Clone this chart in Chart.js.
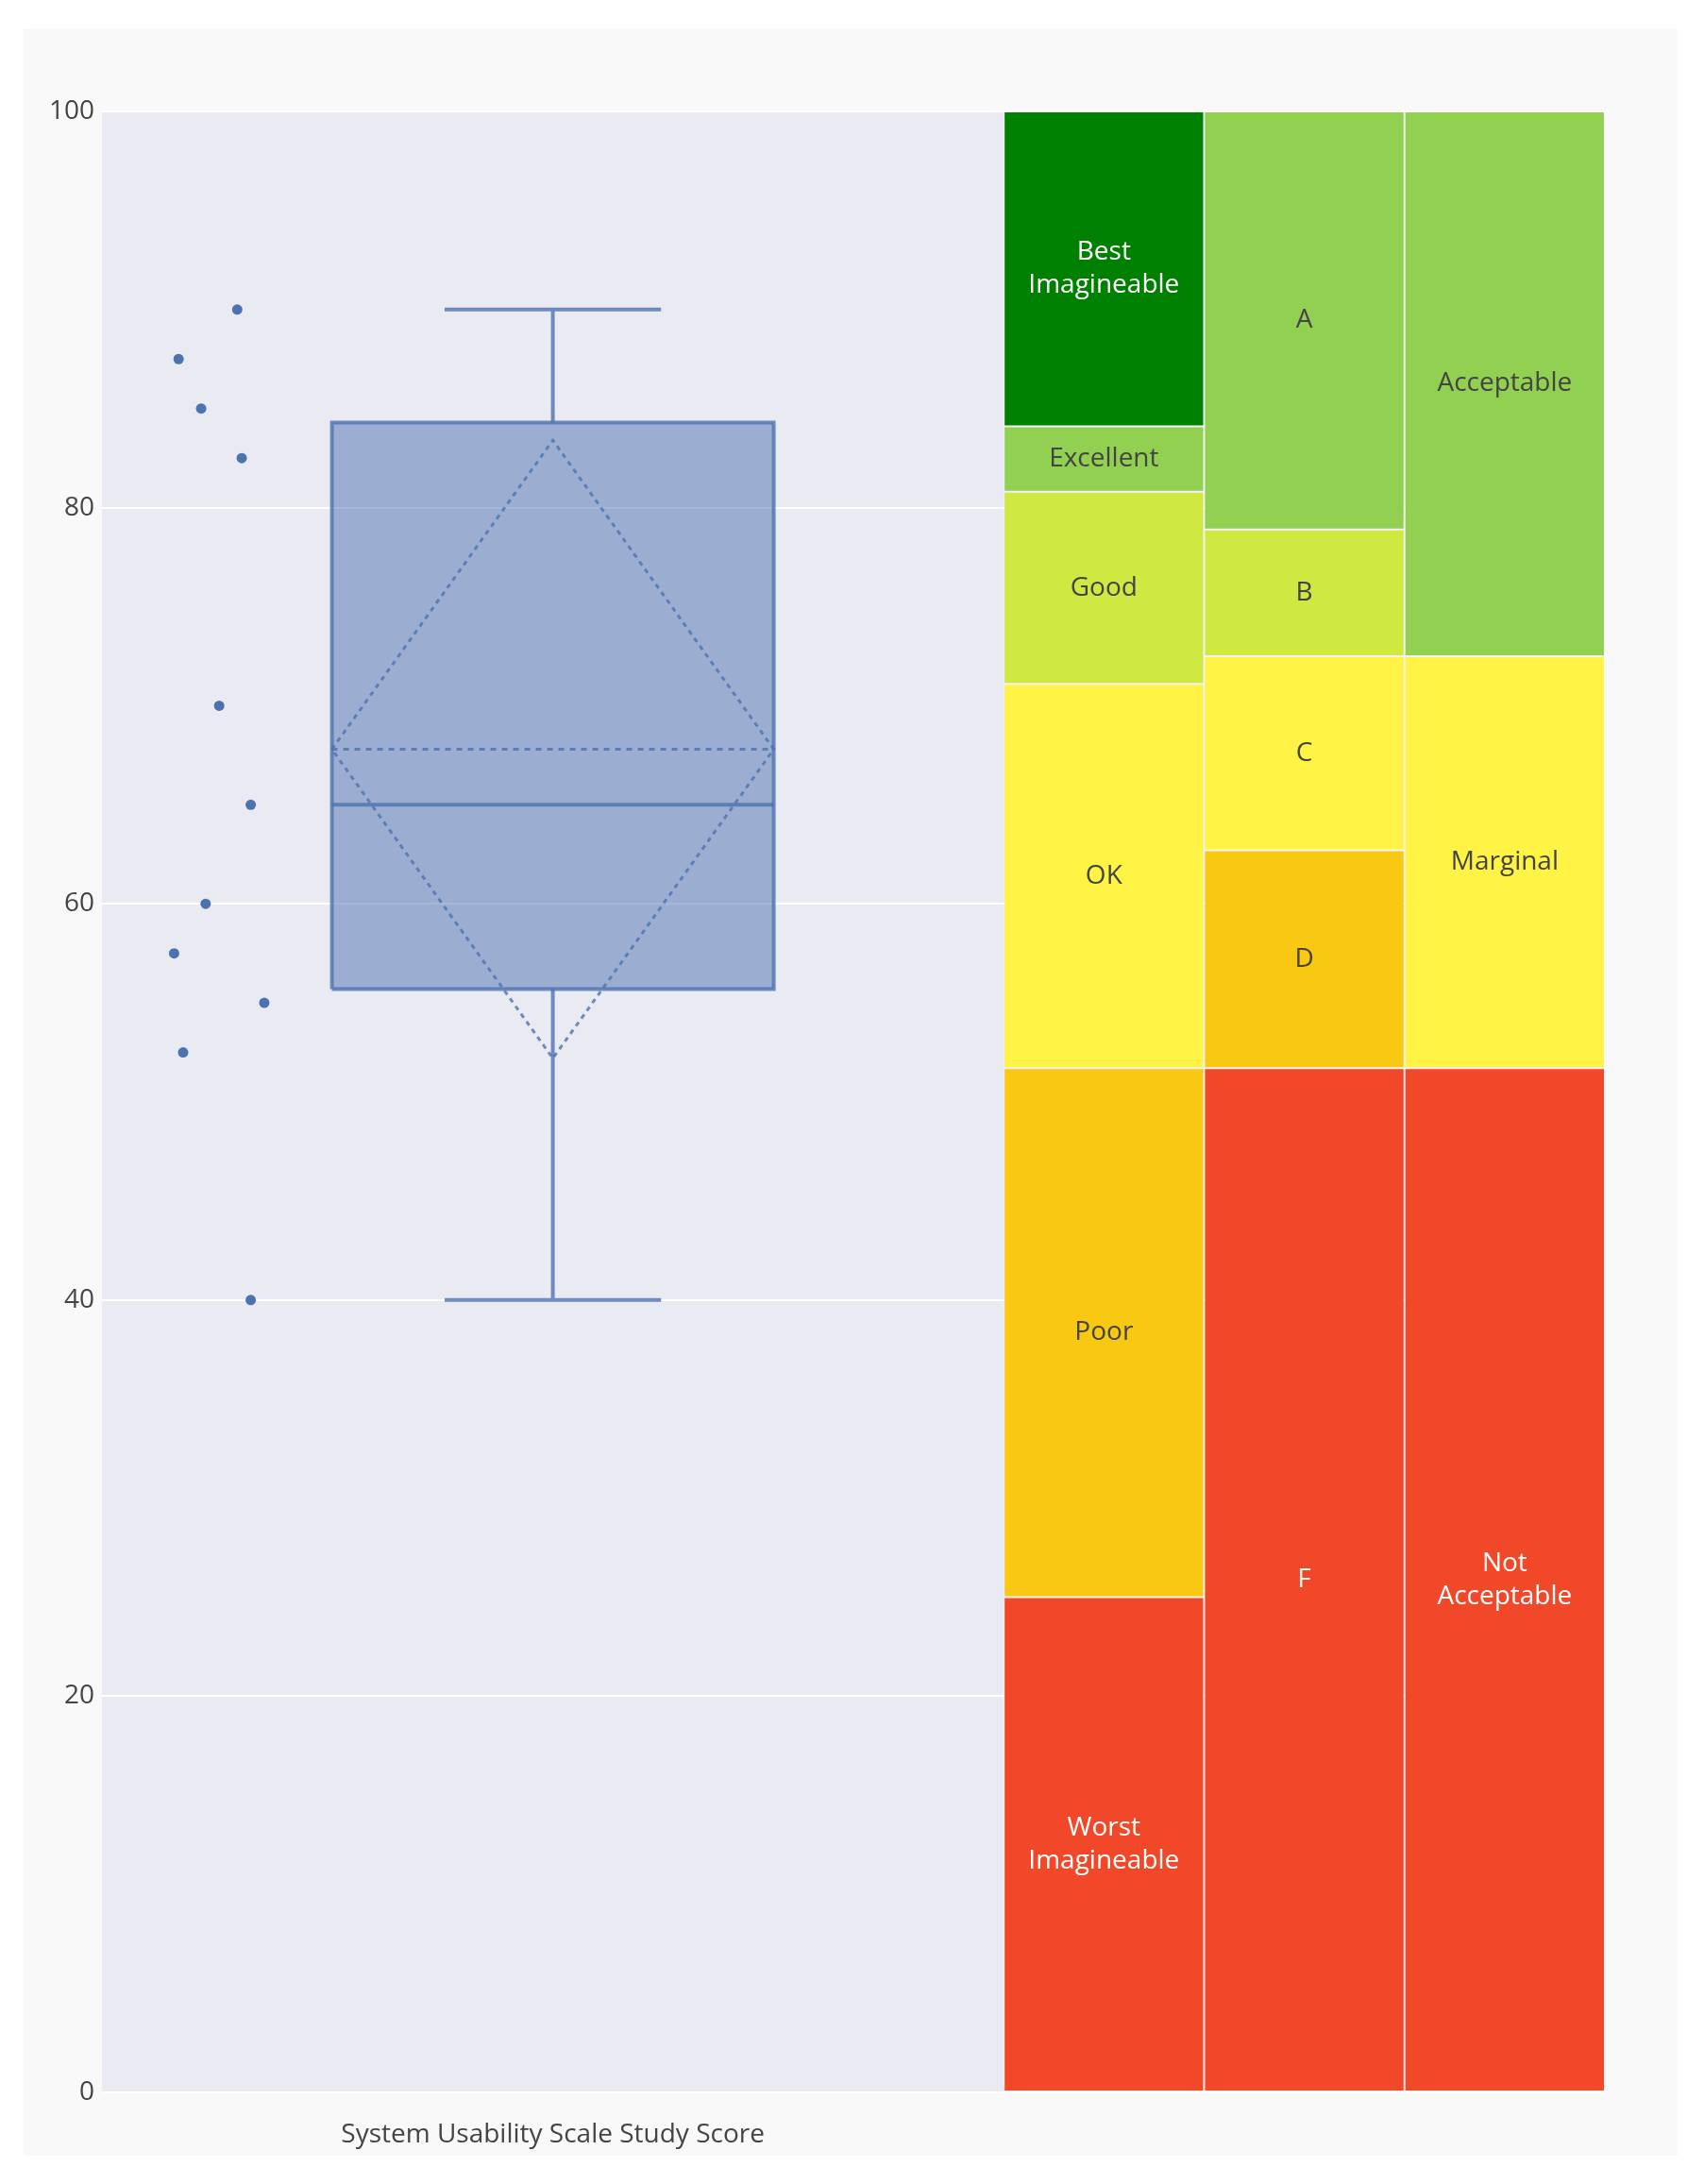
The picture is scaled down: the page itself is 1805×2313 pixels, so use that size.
<!DOCTYPE html>
<html>
<head>
<meta charset="utf-8">
<script src="https://cdn.jsdelivr.net/npm/chart.js@4.4.0/dist/chart.umd.min.js"></script>
<style>
  html, body { margin: 0; padding: 0; background: #fff; }
  #panel { position: absolute; left: 25px; top: 30px; width: 1752px; height: 2253px; background: #f9f9f9; }
</style>
</head>
<body>
<div id="panel"><canvas id="sus"></canvas></div>
<script>
// one dot per participant, with the sideways jitter it was drawn at
var scores = [90, 87.5, 85, 82.5, 70, 65, 60, 57.5, 55, 52.5, 40];
var jitter = [-0.70, -0.83, -0.78, -0.69, -0.74, -0.67, -0.77, -0.84, -0.64, -0.82, -0.67];

// box summary
var whiskerLow = 40, q1 = 55.7, median = 65, q3 = 84.3, whiskerHigh = 90;
var mean = 67.8, sd = 15.6;

// SUS scales shown as the treemap (bottom to top)
var adjectiveNames = ['Worst\nImagineable', 'Poor', 'OK', 'Good', 'Excellent', 'Best\nImagineable'];
var adjectiveEdges = [0, 25, 51.7, 71.1, 80.8, 84.1, 100];
var gradeNames = ['F', 'D', 'C', 'B', 'A'];
var gradeEdges = [0, 51.7, 62.7, 72.5, 78.9, 100];
var acceptNames = ['Not\nAcceptable', 'Marginal', 'Acceptable'];
var acceptEdges = [0, 51.7, 72.5, 100];

var xCategory = 'System Usability Scale Study Score';
var yTicks = [0, 20, 40, 60, 80, 100];

// colours
var RED = '#f04828', ORANGE = '#f9c812', YELLOW = '#fff346', LIME = '#cfe842', LGREEN = '#91d050', DGREEN = '#008000';
var adjectiveColors = [RED, ORANGE, YELLOW, LIME, LGREEN, DGREEN];
var gradeColors = [RED, ORANGE, YELLOW, LIME, LGREEN];
var acceptColors = [RED, YELLOW, LGREEN];
var BLUE = '#4c72b0';
var boxLine = 'rgba(76,114,176,0.8)';
var boxFill = 'rgba(76,114,176,0.5)';

var boxHalf = 0.49, capHalf = 0.24;
var treeLeft = 1, colW = 4 / 9;

// build treemap cells as floating bars, one column per scale
var cells = [], cellColors = [], cellNames = [];
[[adjectiveNames, adjectiveEdges, adjectiveColors],
 [gradeNames, gradeEdges, gradeColors],
 [acceptNames, acceptEdges, acceptColors]].forEach(function (col, c) {
  var names = col[0], edges = col[1], colors = col[2];
  for (var i = 0; i < names.length; i++) {
    cells.push({ x: treeLeft + (c + 0.5) * colW, y: [edges[i], edges[i + 1]] });
    cellColors.push(colors[i]);
    cellNames.push(names[i]);
  }
});

function pt(x, y) { return { x: x, y: y }; }

var lineBase = { type: 'line', pointRadius: 0, borderWidth: 4, borderColor: boxLine, fill: false, spanGaps: false };

var datasets = [
  { type: 'line', showLine: false, data: scores.map(function (s, i) { return pt(jitter[i], s); }),
    pointRadius: 5.5, pointBackgroundColor: BLUE, pointBorderWidth: 0 },
  Object.assign({}, lineBase, { borderWidth: 3, borderDash: [6, 6],
    data: [pt(-boxHalf, mean), pt(boxHalf, mean)] }),
  Object.assign({}, lineBase, { borderWidth: 3, borderDash: [5, 5],
    data: [pt(-boxHalf, mean), pt(0, mean + sd), pt(boxHalf, mean), pt(0, mean - sd), pt(-boxHalf, mean)] }),
  Object.assign({}, lineBase, { data: [pt(-boxHalf, median), pt(boxHalf, median)] }),
  Object.assign({}, lineBase, { data: [pt(0, q3), pt(0, whiskerHigh), pt(0, null), pt(-capHalf, whiskerHigh), pt(capHalf, whiskerHigh)] }),
  Object.assign({}, lineBase, { data: [pt(0, q1), pt(0, whiskerLow), pt(0, null), pt(-capHalf, whiskerLow), pt(capHalf, whiskerLow)] }),
  Object.assign({}, lineBase, { fill: 'shape', backgroundColor: boxFill,
    data: [pt(-boxHalf, q1), pt(boxHalf, q1), pt(boxHalf, q3), pt(-boxHalf, q3), pt(-boxHalf, q1)] }),
  { type: 'bar', data: cells, backgroundColor: cellColors, borderColor: 'rgba(250,250,250,0.4)',
    borderWidth: 1.5, borderSkipped: false, inflateAmount: 0.5, barPercentage: 1, categoryPercentage: 1 }
];
var treeIndex = datasets.length - 1;

var plotBg = {
  id: 'plotBg',
  beforeDraw: function (chart) {
    var a = chart.chartArea, ctx = chart.ctx;
    ctx.save();
    ctx.fillStyle = 'rgb(234,234,242)';
    ctx.fillRect(a.left, a.top, a.right - a.left, a.bottom - a.top);
    ctx.restore();
  }
};

var cellLabels = {
  id: 'cellLabels',
  afterDatasetsDraw: function (chart) {
    var ctx = chart.ctx;
    var meta = chart.getDatasetMeta(treeIndex);
    ctx.save();
    ctx.font = '28px "Open Sans"';
    ctx.textAlign = 'center';
    ctx.textBaseline = 'middle';
    meta.data.forEach(function (bar, i) {
      var lines = cellNames[i].split('\n');
      var c = cellColors[i];
      ctx.fillStyle = (c === RED || c === DGREEN) ? '#ffffff' : '#444444';
      var cy = (bar.y + bar.base) / 2;
      var lh = 35;
      lines.forEach(function (t, k) {
        ctx.fillText(t, bar.x, cy + (k - (lines.length - 1) / 2) * lh);
      });
    });
    ctx.restore();
  }
};

new Chart(document.getElementById('sus'), {
  type: 'line',
  data: { datasets: datasets },
  plugins: [plotBg, cellLabels],
  options: {
    responsive: true,
    maintainAspectRatio: false,
    animation: false,
    layout: { padding: { top: 88, right: 77, left: 0, bottom: 0 } },
    plugins: { legend: { display: false }, tooltip: { enabled: false } },
    scales: {
      x: {
        type: 'linear', min: -1, max: 7 / 3, offset: false,
        afterBuildTicks: function (scale) { scale.ticks = [{ value: 0 }]; },
        afterFit: function (scale) { scale.height = 67; },
        grid: { color: '#ffffff', lineWidth: 2, drawTicks: false },
        border: { display: false },
        ticks: { padding: 28, color: '#444', font: { family: 'Open Sans', size: 28 },
          callback: function () { return xCategory; } }
      },
      y: {
        type: 'linear', min: 0, max: 100,
        afterBuildTicks: function (scale) { scale.ticks = yTicks.map(function (v) { return { value: v }; }); },
        afterFit: function (scale) { scale.width = 83; },
        grid: { color: '#ffffff', lineWidth: 2, drawTicks: false },
        border: { display: false },
        ticks: { padding: 8, color: '#444', font: { family: 'Open Sans', size: 28 } }
      }
    }
  }
});
</script>
</body>
</html>
